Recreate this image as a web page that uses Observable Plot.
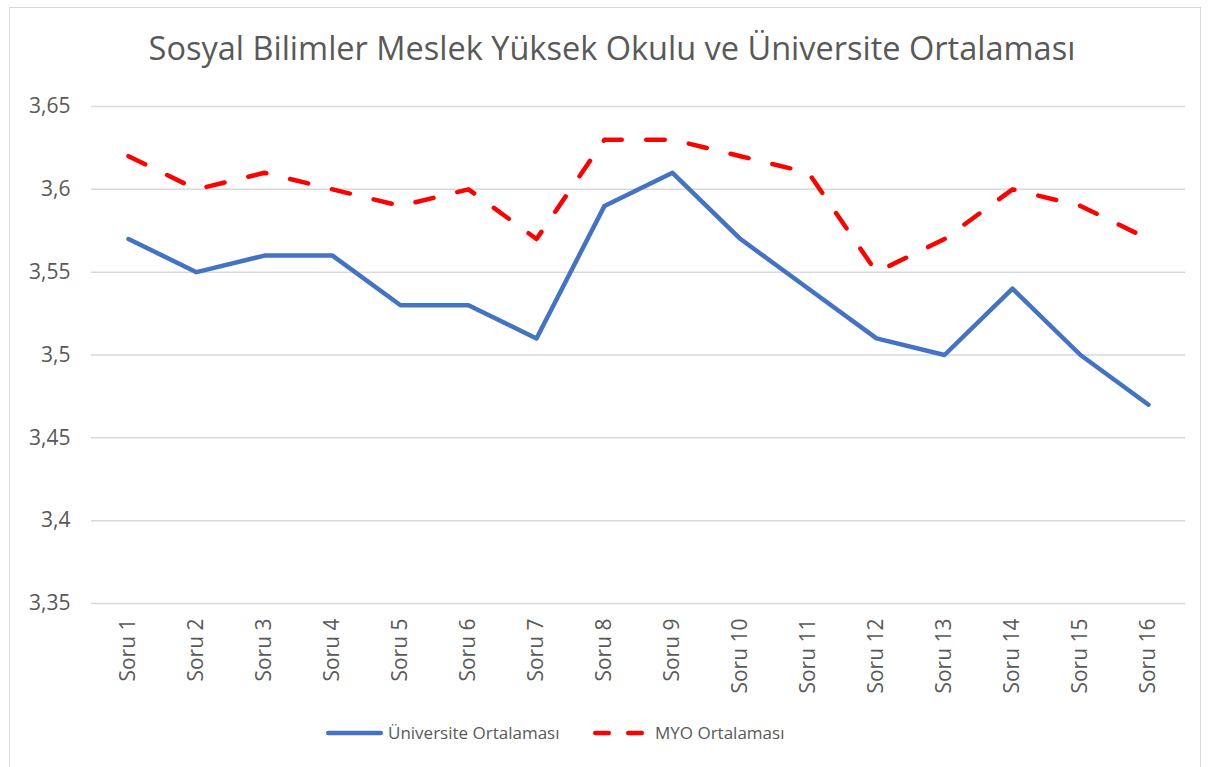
<!DOCTYPE html>
<html>
<head>
<meta charset="utf-8">
<script src="https://cdn.jsdelivr.net/npm/d3@7"></script>
<script src="https://cdn.jsdelivr.net/npm/@observablehq/plot@0.6"></script>
<style>
  html, body { margin: 0; padding: 0; background: #fff; }
  #wrap { position: relative; width: 1210px; height: 767px; overflow: hidden; font-family: "Open Sans", sans-serif; color: #595959; }
  #frame { position: absolute; left: 9px; top: 7px; width: 1192px; height: 790px; border: 1.5px solid #d9d9d9; box-sizing: border-box; }
  #title { position: absolute; left: 0; width: 1224px; top: 26px; text-align: center; font-size: 32.5px; line-height: 44px; white-space: nowrap; }
  #chart { position: absolute; left: 0; top: 80px; }
  #legend { position: absolute; top: 719px; left: 0; height: 28px; font-size: 17px; line-height: 28px; }
  .item { position: absolute; top: 0; white-space: nowrap; }
  .item svg { position: absolute; top: 0; }
  .item span { position: absolute; top: 0; }
</style>
</head>
<body>
<div id="wrap">
  <div id="frame"></div>
  <div id="title"></div>
  <div id="chart"></div>
  <div id="legend"></div>
</div>
<script>
const titleText = "Sosyal Bilimler Meslek Yüksek Okulu ve Üniversite Ortalaması";
const categories = ["Soru 1","Soru 2","Soru 3","Soru 4","Soru 5","Soru 6","Soru 7","Soru 8","Soru 9","Soru 10","Soru 11","Soru 12","Soru 13","Soru 14","Soru 15","Soru 16"];
const seriesNames = ["Üniversite Ortalaması", "MYO Ortalaması"];
const universiteValues = [3.57, 3.55, 3.56, 3.56, 3.53, 3.53, 3.51, 3.59, 3.61, 3.57, 3.54, 3.51, 3.50, 3.54, 3.50, 3.47];
const myoValues = [3.62, 3.60, 3.61, 3.60, 3.59, 3.60, 3.57, 3.63, 3.63, 3.62, 3.61, 3.55, 3.57, 3.60, 3.59, 3.57];
const yTicks = [3.35, 3.40, 3.45, 3.50, 3.55, 3.60, 3.65];

const uniData = categories.map((c, i) => ({soru: c, value: universiteValues[i]}));
const myoData = categories.map((c, i) => ({soru: c, value: myoValues[i]}));

const fmt = d => String(+d.toFixed(2)).replace(".", ",");

document.getElementById("title").textContent = titleText;

const plot = Plot.plot({
  width: 1210,
  height: 640,
  marginTop: 26,
  marginBottom: 117,
  marginLeft: 91,
  marginRight: 25,
  style: { fontFamily: "Open Sans, sans-serif", fontSize: "21px", color: "#595959", background: "transparent", overflow: "visible" },
  x: { type: "point", domain: categories, padding: 0.5 },
  y: { domain: [3.35, 3.65] },
  marks: [
    Plot.gridY(yTicks, { stroke: "#d9d9d9", strokeOpacity: 1, strokeWidth: 1.5 }),
    Plot.axisY(yTicks, { tickSize: 0, tickPadding: 21, tickFormat: fmt, fill: "#595959", label: null }),
    Plot.axisX({ tickSize: 0, tickPadding: 15, tickRotate: -90, fill: "#595959", label: null }),
    Plot.line(uniData, { x: "soru", y: "value", stroke: "#4472C4", strokeWidth: 4.5, strokeLinejoin: "round", strokeLinecap: "round", curve: "linear" }),
    Plot.line(myoData, { x: "soru", y: "value", stroke: "#FF0000", strokeWidth: 4.5, strokeDasharray: "18.5,24.5", strokeLinecap: "round", strokeLinejoin: "round", curve: "linear" })
  ]
});
document.getElementById("chart").appendChild(plot);

// legend
const legend = document.getElementById("legend");
const legendItems = [
  { name: seriesNames[0], color: "#4472C4", dash: null, x: 326 },
  { name: seriesNames[1], color: "#FF0000", dash: "13.5,19.5", x: 593 }
];
legendItems.forEach(it => {
  const div = document.createElement("div");
  div.className = "item";
  div.style.left = it.x + "px";
  const swW = it.dash ? 52 : 57;
  div.innerHTML = `<svg width="${swW + 4}" height="28" style="left:-2px"><line x1="${2 + 2.25}" x2="${swW + 2 - 2.25}" y1="14" y2="14" stroke="${it.color}" stroke-width="4.5" stroke-linecap="round" ${it.dash ? `stroke-dasharray="${it.dash}"` : ""}/></svg><span style="left:${swW + (it.dash ? 10 : 5)}px">${it.name}</span>`;
  legend.appendChild(div);
});
</script>
</body>
</html>
